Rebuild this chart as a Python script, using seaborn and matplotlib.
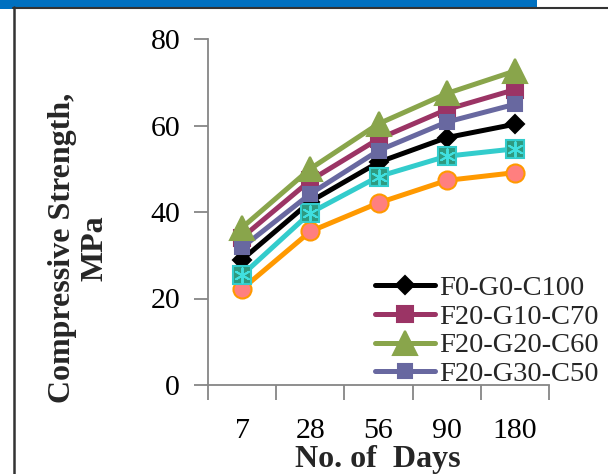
import matplotlib
matplotlib.use("Agg")
import matplotlib.pyplot as plt
import matplotlib.patches as mpatches
import seaborn as sns
import pandas as pd

days = ["7", "28", "56", "90", "180"]
series_names = ["F0-G0-C100", "F20-G10-C70", "F20-G20-C60", "F20-G30-C50",
                "F20-G40-C40", "F20-G50-C30"]
f0_g0_c100 = [29.0, 42.4, 51.5, 57.2, 60.3]
f20_g10_c70 = [34.1, 47.3, 56.9, 63.7, 68.3]
f20_g20_c60 = [36.4, 50.0, 60.4, 67.4, 72.6]
f20_g30_c50 = [31.8, 44.2, 54.2, 60.8, 64.9]
f20_g40_c40 = [25.4, 39.8, 48.2, 52.9, 54.6]
f20_g50_c30 = [22.2, 35.5, 42.1, 47.3, 49.1]
all_values = [f0_g0_c100, f20_g10_c70, f20_g20_c60, f20_g30_c50, f20_g40_c40, f20_g50_c30]
y_ticks = [0, 20, 40, 60, 80]

sns.set_theme(style="white")
plt.rcParams["font.family"] = ["Liberation Serif", "DejaVu Serif"]

W, H = 608, 474
fig = plt.figure(figsize=(W / 100, H / 100), dpi=100)
ax = fig.add_axes([208 / W, 1 - 385 / H, (549 - 208) / W, (385 - 39) / H])

styles = {
    "F0-G0-C100": dict(color="#000000", marker="D", ms=9, mfc="#000000", mec="#000000"),
    "F20-G10-C70": dict(color="#9B3465", marker="s", ms=11, mfc="#9B3465", mec="#9B3465"),
    "F20-G20-C60": dict(color="#89A54B", marker="^", ms=17, mfc="#89A54B", mec="#89A54B"),
    "F20-G30-C50": dict(color="#6868A0", marker="s", ms=10, mfc="#6868A0", mec="#6868A0"),
    "F20-G40-C40": dict(color="#33CCCC", marker="s", ms=13, mfc="#2E9A80", mec="#33CCCC"),
    "F20-G50-C30": dict(color="#FF9900", marker="o", ms=13, mfc="#FF7F7F", mec="#FF9900"),
}
zorders = {"F0-G0-C100": 3, "F20-G10-C70": 4, "F20-G20-C60": 5, "F20-G30-C50": 4.5,
           "F20-G40-C40": 3.5, "F20-G50-C30": 3.2}

for name, vals in zip(series_names, all_values):
    df = pd.DataFrame({"day": days, "val": vals})
    st = styles[name]
    sns.lineplot(data=df, x="day", y="val", ax=ax, sort=False, color=st["color"],
                 lw=3.6, marker=st["marker"], markersize=st["ms"],
                 markerfacecolor=st["mfc"], markeredgecolor=st["mec"],
                 markeredgewidth=1.5, label=name, zorder=zorders[name])

# asterisk overlay on the teal squares
df5 = pd.DataFrame({"day": days, "val": f20_g40_c40})
sns.scatterplot(data=df5, x="day", y="val", ax=ax, marker=(6, 2, 0), s=110,
                color="#40E0E0", linewidth=1.4, zorder=3.6, legend=False)

ax.set_xlim(-0.5, len(days) - 0.5)
ax.set_ylim(0, 80)
ax.set_yticks(y_ticks)
ax.set_xticks(range(len(days)))
ax.set_xticklabels(days)
ax.set_xticks([i - 0.5 for i in range(len(days) + 1)], minor=True)
ax.tick_params(axis="x", which="major", length=0, pad=24, labelsize=21.5, colors="black")
ax.tick_params(axis="x", which="minor", length=11, width=1.3, color="#868686", direction="out", bottom=True)
ax.tick_params(axis="y", which="major", length=10, width=1.3, color="#868686", direction="out",
               left=True, pad=10, labelsize=21.5, labelcolor="black")
for side in ["top", "right"]:
    ax.spines[side].set_visible(False)
for side in ["left", "bottom"]:
    ax.spines[side].set_color("#868686")
    ax.spines[side].set_linewidth(1.3)
ax.set_xlabel("")
ax.set_ylabel("")
ax.patch.set_alpha(0)

fig.text(378 / W, 1 - 460 / H, "No. of  Days", ha="center", va="center",
         fontsize=23, fontweight="bold")
fig.text(79 / W, 1 - 248 / H, "Compressive Strength,\nMPa", ha="center", va="center",
         rotation=90, fontsize=23, fontweight="bold", linespacing=1.15,
         multialignment="center")

handles, labels = ax.get_legend_handles_labels()
leg = ax.legend(handles[:4], labels[:4], loc="upper left",
                bbox_to_anchor=(375 / W, 1 - 275 / H), bbox_transform=fig.transFigure,
                frameon=False, fontsize=20.5, handlelength=2.1, handletextpad=0.15,
                labelspacing=0.1, borderaxespad=0, borderpad=0)
leg.set_zorder(10)

# frame decoration of the cropped figure
fig.patches.append(mpatches.Rectangle((0, 1 - 7 / H), 537 / W, 7 / H, transform=fig.transFigure,
                                      facecolor="#0070C0", edgecolor="none", zorder=0))
fig.patches.append(mpatches.Rectangle((0, 1 - 9 / H), 13 / W, 9 / H, transform=fig.transFigure,
                                      facecolor="#0070C0", edgecolor="none", zorder=0))
fig.lines.append(plt.Line2D([13 / W, 1], [1 - 7.5 / H, 1 - 7.5 / H], transform=fig.transFigure,
                            color="#333333", lw=1.5))
fig.lines.append(plt.Line2D([14 / W, 14 / W], [0, 1 - 7 / H], transform=fig.transFigure,
                            color="#333333", lw=1.8))

fig.savefig("out.png", dpi=100)
